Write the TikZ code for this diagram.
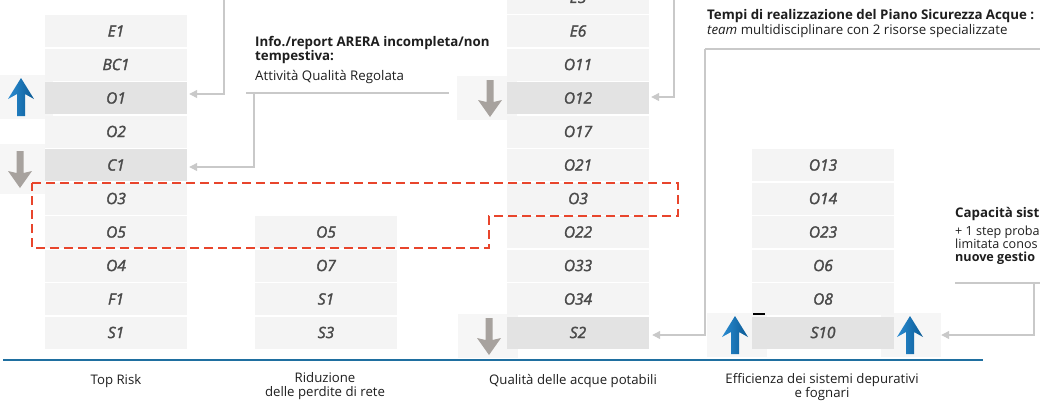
\documentclass[tikz,border=0pt]{standalone}
\usepackage{fontspec}
\setmainfont{Open Sans}
\newfontfamily\cellfont{Open Sans}[FakeBold=2]
\usetikzlibrary{arrows.meta,calc}
\definecolor{cellbg}{HTML}{F4F4F4}
\definecolor{cellhl}{HTML}{E3E3E3}
\definecolor{celltx}{HTML}{4A4A4A}
\definecolor{conngray}{HTML}{C9C9C9}
\definecolor{redd}{HTML}{E8452C}
\definecolor{baseblue}{HTML}{1F6FA0}
\definecolor{arrbluel}{HTML}{2A8CD2}
\definecolor{arrblued}{HTML}{0B5A94}
\definecolor{arrgray}{HTML}{A7A29E}
\definecolor{patchc}{HTML}{F6F6F6}
\definecolor{txt}{HTML}{1E1E1E}
\begin{document}
\begin{tikzpicture}[x=1pt,y=-1pt,
  cell/.style={minimum width=142pt, minimum height=32pt, inner sep=0pt, text=celltx,
    font=\cellfont\fontsize{15.5}{18}\selectfont\itshape},
  link/.style={draw=conngray, line width=1.2pt},
  linkarr/.style={link, -{Triangle[width=8pt,length=8pt]}},
  patchbox/.style={fill=patchc, draw=none, inner sep=0pt, minimum width=60pt, minimum height=44pt},
  collabel/.style={text=txt, align=center, font=\fontsize{13.2}{14.5}\selectfont},
  note/.style={text=txt, anchor=base west, inner sep=0pt, font=\fontsize{13.3}{14}\selectfont},
  smallnote/.style={note, font=\fontsize{12.6}{13}\selectfont},
  uparrow/.pic={\shade[left color=arrbluel, right color=arrblued]
      (-4,0) -- (-4,-22) -- (-13,-17) -- (0,-38) -- (13,-17) -- (4,-22) -- (4,0) -- cycle;},
  downarrow/.pic={\fill[arrgray]
      (-3.5,0) -- (-3.5,22) -- (-12,20) -- (0,37) -- (12,20) -- (3.5,22) -- (3.5,0) -- cycle;}
]
\useasboundingbox (0,0) rectangle (1040,405);

% arrow image patches
\node[patchbox, minimum width=53pt, minimum height=44pt] (pO1) at (26.5,97) {};
\node[patchbox, minimum width=45pt, minimum height=50pt] (pC1) at (22.5,169) {};
\node[patchbox] (pO12) at (487,98) {};
\node[patchbox] (pS2) at (488,336) {};
\node[patchbox] (pS10l) at (737,335) {};
\node[patchbox] (pS10r) at (911,335) {};

% column 1: Top Risk
\foreach \t/\f [count=\i from 0] in {E1/cellbg,BC1/cellbg,O1/cellhl,O2/cellbg,C1/cellhl,O3/cellbg,O5/cellbg,O4/cellbg,F1/cellbg,S1/cellbg}
  \node[cell, fill=\f] (t\i) at (116,{31+33.5*\i}) {\t};
% column 2: Riduzione perdite
\foreach \t [count=\i from 6] in {O5,O7,S1,S3}
  \node[cell, fill=cellbg] (r\i) at (326,{31+33.5*\i}) {\t};
% column 3: Qualita acque potabili
\foreach \t/\f [count=\k from 0] in {E5/cellbg,E6/cellbg,O11/cellbg,O12/cellhl,O17/cellbg,O21/cellbg,O3/cellbg,O22/cellbg,O33/cellbg,O34/cellbg,S2/cellhl}
  \node[cell, fill=\f] (q\k) at (578,{31+33.5*(\k-1)}) {\t};
% column 4: Efficienza depurativi
\foreach \t/\f [count=\i from 4] in {O13/cellbg,O14/cellbg,O23/cellbg,O6/cellbg,O8/cellbg,S10/cellhl}
  \node[cell, fill=\f] (e\i) at (823,{31+33.5*\i}) {\t};

% trend arrows
\pic at (21,116) {uparrow};
\pic at (20,151) {downarrow};
\pic at (490,80) {downarrow};
\pic at (489,318) {downarrow};
\pic at (735,354) {uparrow};
\pic at (910,354) {uparrow};
\draw[black, line width=1.6pt] (753,314) -- (765,314);

% red dashed outline
\draw[redd, line width=1.4pt, dash pattern=on 9pt off 5pt]
  (32,183) -- (678,183) -- (678,216) -- (489,216) -- (489,248) -- (32,248) -- cycle;

% baseline
\draw[baseblue, line width=1.3pt] (3,360) -- (983,360);

% column labels
\node[collabel] (l1) at (116,381) {Top Risk};
\node[collabel] (l2) at (325,386) {Riduzione\\delle perdite di rete};
\node[collabel] (l3) at (573,381) {Qualità delle acque potabili};
\node[collabel] (l4) at (822,387) {Efficienza dei sistemi depurativi\\e fognari};

% notes
\node[note] (n1a) at (255,46) {\bfseries Info./report ARERA incompleta/non};
\node[note] (n1b) at (255,60) {\bfseries tempestiva:};
\node[note] (n1c) at (255,80.5) {Attività Qualità Regolata};
\node[note] (n2a) at (707,19.5) {\bfseries Tempi di realizzazione del Piano Sicurezza Acque :};
\node[note] (n2b) at (707,34) {\itshape team\upshape{} multidisciplinare con 2 risorse specializzate};
\node[note] (n3a) at (955,217) {\bfseries Capacità sist};
\node[smallnote] (n3b) at (955,235) {+ 1 step proba};
\node[smallnote] (n3c) at (955,248) {limitata conos};
\node[smallnote] (n3d) at (955,261) {\bfseries nuove gestio};

% connectors
\coordinate (top1) at (224,0);
\draw[linkarr] (top1) |- ($(t2.east)+(2,-4)$);
\coordinate (inl) at (246,93);
\coordinate (inr) at (449,93);
\draw[link] (inl) -- (inr);
\coordinate (inj) at (254,93);
\draw[linkarr] (inj) |- ($(t4.east)+(2,2)$);
\coordinate (top3) at (674,0);
\draw[linkarr] (top3) |- ($(q3.east)+(2,-1)$);
\coordinate (tl) at (705,49);
\coordinate (tr) at (1040,49);
\draw[link] (tl) -- (tr);
\draw[linkarr] (tl) |- ($(q10.east)+(3,2.5)$);
\coordinate (cl) at (955,283);
\coordinate (cr) at (1040,283);
\draw[link] (cl) -- (cr);
\coordinate (cj) at (1034,283);
\draw[linkarr] (cj) |- (pS10r.east);
\end{tikzpicture}
\end{document}
